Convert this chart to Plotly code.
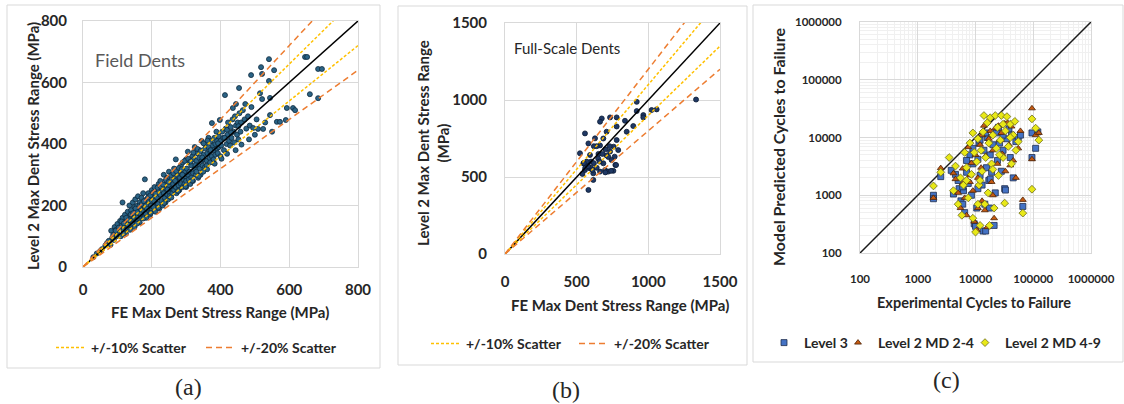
import plotly.graph_objects as go

# ---------------- Panel (a): Field Dents ----------------
a_fe = [30,40,50,55,65,70,75,80,82,85,88,90,92,95,98,100,100,
        105,108,110,112,115,115,118,120,122,125,125,128,130,130,132,135,135,138,140,140,142,145,145,148,150,150,150,
        152,155,155,158,160,160,162,165,165,168,170,170,172,175,175,178,178,180,180,182,185,185,188,190,190,192,195,195,198,200,200,200,
        203,205,208,210,210,212,215,218,220,220,222,225,225,228,230,230,232,235,235,238,240,240,242,245,245,248,250,250,250,
        252,255,258,260,260,262,265,265,268,270,270,272,275,275,278,280,280,282,285,285,288,290,290,292,295,295,298,300,300,300,
        302,305,305,308,310,310,312,315,315,318,320,320,322,325,325,328,330,330,332,335,335,338,340,340,342,345,345,348,350,350,
        352,355,355,358,360,360,362,365,365,368,370,370,372,375,375,378,380,380,382,385,385,388,390,390,392,395,395,398,400,400,
        402,405,408,410,413,415,418,419,420,422,425,428,430,432,435,436,438,440,442,445,445,448,450,452,454,455,458,460,
        465,470,472,475,480,485,489,490,495,500,505,509,515,518,521,521,524,530,541,541,544,544,550,556,
        564,573,590,593,611,617,646,652,660,684,695,684,
        95,104,112,119,126,133,139,146,153,158,164,171,177,183,189,196,204,211,217,226,233,241,249,256,263,271,279,287,296,
        306,313,321,333,342,351,362,118,137,157,176,197,219,236,257,277,298,318,337,361,383,403,419,444,461,483,
        131,167,186,207,246,268,289,327,347,371,393,412,431,452]
a_l2 = [32,44,52,58,70,78,85,72,118,95,105,88,130,120,100,140,115,
        125,150,100,135,160,210,120,145,170,108,135,155,180,125,145,165,200,130,150,185,170,140,210,160,195,130,175,
        220,150,185,200,165,230,175,145,210,190,160,225,200,180,240,165,210,195,285,175,220,160,205,185,240,215,170,230,200,250,185,215,
        230,195,260,210,180,240,225,205,270,245,190,235,280,215,250,260,200,240,300,225,270,210,255,290,235,220,265,310,245,
        230,280,255,300,240,270,250,320,285,260,350,240,300,275,265,310,250,290,330,270,300,260,340,285,310,270,295,350,280,260,
        320,300,375,285,340,310,270,330,290,360,305,280,350,320,390,300,345,310,370,330,290,355,320,380,300,345,410,330,365,310,
        350,385,325,400,345,330,370,390,420,355,375,340,410,468,360,395,380,350,420,400,365,440,385,410,370,425,390,478,410,360,
        395,440,420,380,559,450,400,446,430,470,410,395,455,420,480,517,440,405,490,460,530,430,470,415,582,500,440,470,
        510,480,530,450,490,460,624,520,452,430,480,449,565,650,628,546,449,470,676,605,550,494,440,640,
        472,472,478,517,517,510,683,683,562,644,644,549,
        118,128,148,142,160,152,171,175,190,178,198,205,214,200,226,233,242,238,258,262,268,283,276,298,305,312,322,318,345,
        352,343,372,384,377,402,411,108,121,141,158,176,193,208,226,247,262,281,296,318,336,352,368,380,398,415,
        137,172,190,214,252,280,300,331,356,380,402,420,437,458]

# ---------------- Panel (b): Full-Scale Dents ----------------
b_fe = [1333,919,1058,1023,965,965,919,895,849,837,779,733,675,663,779,779,790,758,765,770,709,686,663,652,640,
        558,582,628,523,593,547,570,558,593,616,582,616,663,698,721,756,709,733,721,744,686,775,540,560,600,620,650,
        700,730,680,600,570,610,640,660,700,740,620,580,550]
b_l2 = [1003,988,939,935,902,887,928,831,794,865,887,887,880,859,828,740,675,697,632,578,794,750,705,650,700,
        783,718,751,654,643,589,578,545,556,524,416,481,535,545,535,540,640,665,630,610,589,578,520,560,600,590,620,
        680,700,650,560,600,545,560,600,530,540,700,570,590]

# ---------------- Panel (c): cycles to failure ----------------
c_l3_exp = [1870,1870,2500,4150,3800,4500,5000,5200,5600,6000,6200,6500,7000,7500,8000,8500,9000,9500,10000,10500,
            11000,11500,12000,13000,13500,14000,14500,15000,15500,16000,17000,17500,18000,19000,20000,21000,22000,23000,
            24000,26000,28000,30000,32000,33000,35000,38000,40000,42000,45000,50000,55000,60000,66000,95000,95000,110000,
            120000,7000,9000,12000,15000,25000,30000,18000,11000,6000]
c_l3_mod = [1000,870,2100,1050,2700,2300,1800,1300,800,700,1200,500,2500,1600,5000,1000,3500,320,290,600,
            4200,8000,2200,1500,240,6000,700,240,3000,10000,1800,600,5000,2500,7500,300,1100,12000,
            4000,8000,2600,6000,1300,1230,9500,14000,4500,11000,2000,8500,10000,11000,640,12000,4500,6500,
            12500,4000,6500,9000,12000,15000,11000,1900,1300,1400]
c_m24_exp = [1870,2500,4150,4500,5000,5500,6000,6500,7000,7500,8000,8500,9000,9500,10000,10500,11000,12000,12500,13000,
             14000,14500,15000,16000,17000,18000,19000,20000,21000,22000,24000,25000,27000,29000,32000,33000,36000,38000,
             40000,42000,45000,50000,55000,60000,66000,95000,95000,110000,125000,8000,11000,6000,13000,20000,28000]
c_m24_mod = [900,2950,2400,1900,1100,600,2900,900,450,6800,1700,3600,1200,350,5000,250,2000,7500,3000,800,
             16000,550,4800,280,9500,13000,1700,6000,400,14500,3500,16000,9000,5200,17500,2600,18000,7500,
             3300,15500,4000,2000,6500,13000,830,32000,4200,11000,12000,2200,600,1600,11000,1000,12000]
c_m49_exp = [1870,2500,3500,4150,4500,5000,5500,5800,6200,6500,7000,7500,8000,8500,9000,9500,10000,10500,11000,11500,
             12000,12500,13000,13500,14000,14500,15000,16000,16500,17000,17500,18000,19000,20000,21000,22000,23000,24000,
             25000,27000,28000,30000,32000,33000,35000,37000,40000,42000,45000,48000,50000,55000,66000,95000,95000,110000,
             125000,7000,12000,9000,30000,40000,20000,11000,26000]
c_m49_mod = [1450,2500,4500,1200,3200,700,2000,450,1500,5500,3000,900,8000,2300,400,5500,230,3800,9500,1500,
             300,6000,2600,12500,24000,700,4500,18000,1100,8000,300,22000,3500,11000,600,24000,6500,15000,
             2200,9000,24000,4500,730,13000,23000,7000,17000,3500,11000,19000,6000,8500,490,21000,1270,14500,
             9000,1800,1800,12000,17000,10000,2800,700,5000]

# scatter band factors and axis maxima
band10 = [1.1, 0.9]
band20 = [1.2, 0.8]
a_max, b_max = 800, 1500
c_ticks = [100, 1000, 10000, 100000, 1000000]
c_ticktext = ["100", "1000", "10000", "100000", "1000000"]

W, H = 1124, 404
def PX(x): return x / W
def PY(y): return 1 - y / H

YEL = "#FFC000"
ORA = "#ED7D31"
TXT = "#262626"
GRID = "#d9d9d9"

fig = go.Figure()

def add_lines(xa, ya, vmax, leg10, leg20):
    fig.add_trace(go.Scatter(x=[0, vmax], y=[0, vmax], mode="lines", xaxis=xa, yaxis=ya,
                             line=dict(color="black", width=1.5), showlegend=False))
    for i, f in enumerate(band10):
        fig.add_trace(go.Scatter(x=[0, vmax], y=[0, vmax * f], mode="lines", xaxis=xa, yaxis=ya,
                                 line=dict(color=YEL, width=1.5, dash="3px,2px"),
                                 name="+/-10% Scatter", legend=leg10, showlegend=(i == 0)))
    for i, f in enumerate(band20):
        fig.add_trace(go.Scatter(x=[0, vmax], y=[0, vmax * f], mode="lines", xaxis=xa, yaxis=ya,
                                 line=dict(color=ORA, width=1.5, dash="6px,4px"),
                                 name="+/-20% Scatter", legend=leg20, showlegend=(i == 0)))

# Panel (a)
fig.add_trace(go.Scatter(x=a_fe, y=a_l2, mode="markers", xaxis="x", yaxis="y", showlegend=False,
                         marker=dict(size=5, color="#2b6385", line=dict(color="#0e2a3d", width=0.8))))
add_lines("x", "y", a_max, "legend", "legend2")

# Panel (b)
fig.add_trace(go.Scatter(x=b_fe, y=b_l2, mode="markers", xaxis="x2", yaxis="y2", showlegend=False,
                         marker=dict(size=5, color="#1f3864", line=dict(color="#0b1a33", width=0.8))))
add_lines("x2", "y2", b_max, "legend3", "legend4")

# Panel (c)
fig.add_trace(go.Scatter(x=[c_ticks[0], c_ticks[-1]], y=[c_ticks[0], c_ticks[-1]], mode="lines",
                         xaxis="x3", yaxis="y3", line=dict(color="#1a1a1a", width=1.5), showlegend=False))
fig.add_trace(go.Scatter(x=c_l3_exp, y=c_l3_mod, mode="markers", xaxis="x3", yaxis="y3", name="Level 3",
                         legend="legend5",
                         marker=dict(symbol="square", size=6, color="#4472C4", line=dict(color="#1f2d4d", width=0.8))))
fig.add_trace(go.Scatter(x=c_m24_exp, y=c_m24_mod, mode="markers", xaxis="x3", yaxis="y3", name="Level 2 MD 2-4",
                         legend="legend6",
                         marker=dict(symbol="triangle-up", size=6, color="#C55A11", line=dict(color="#4d2205", width=0.8))))
fig.add_trace(go.Scatter(x=c_m49_exp, y=c_m49_mod, mode="markers", xaxis="x3", yaxis="y3", name="Level 2 MD 4-9",
                         legend="legend7",
                         marker=dict(symbol="diamond", size=6, color="#E8E817", line=dict(color="#6b6b1a", width=0.8))))

tickfont = dict(family="Lato", size=15, color=TXT, weight="bold")
tickfont_c = dict(family="Lato", size=11.5, color=TXT, weight="bold")
common = dict(showline=True, linecolor=GRID, linewidth=1, mirror=True, showgrid=True, gridcolor=GRID,
              gridwidth=1, zeroline=False, ticks="outside", tickcolor="rgba(0,0,0,0)", automargin=False)

def legend_at(x, y, size=14):
    return dict(x=PX(x), y=PY(y), xanchor="left", yanchor="middle", orientation="h",
                font=dict(family="Lato", size=size, color=TXT, weight="bold"),
                bgcolor="rgba(0,0,0,0)", itemwidth=30)

fig.update_layout(
    width=W, height=H, margin=dict(l=0, r=0, t=0, b=0, autoexpand=False),
    paper_bgcolor="white", plot_bgcolor="white",
    xaxis=dict(domain=[PX(83), PX(358)], range=[0, a_max], dtick=200, anchor="y", ticklen=9,
               tickfont=tickfont, **common),
    yaxis=dict(domain=[PY(267), PY(21)], range=[0, a_max], dtick=200, anchor="x", ticklen=12,
               tickfont=tickfont, **common),
    xaxis2=dict(domain=[PX(505), PX(720)], range=[0, b_max], dtick=500, anchor="y2", ticklen=14,
                tickfont=tickfont, **common),
    yaxis2=dict(domain=[PY(254), PY(23)], range=[0, b_max], dtick=500, anchor="x2", ticklen=14,
                tickfont=tickfont, **common),
    xaxis3=dict(domain=[PX(860), PX(1091)], type="log", range=[2, 6], anchor="y3",
                tickvals=c_ticks, ticktext=c_ticktext, ticklen=15, tickfont=tickfont_c,
                minor=dict(showgrid=True, dtick="D1", gridcolor="#f0f0f0", ticks=""), **common),
    yaxis3=dict(domain=[PY(253), PY(22)], type="log", range=[2, 6], anchor="x3",
                tickvals=c_ticks, ticktext=c_ticktext, ticklen=15, tickfont=tickfont_c,
                minor=dict(showgrid=True, dtick="D1", gridcolor="#f0f0f0", ticks=""), **common),
    legend=legend_at(51, 348),
    legend2=legend_at(201, 348),
    legend3=legend_at(426, 344),
    legend4=legend_at(574, 344),
    legend5=legend_at(764, 343),
    legend6=legend_at(838, 343),
    legend7=legend_at(965, 343),
)

# panel frames
for (x0, y0, x1, y1) in [(7, 5, 380, 368), (398, 6, 747, 365), (753, 5, 1123, 362)]:
    fig.add_shape(type="rect", xref="paper", yref="paper", x0=PX(x0), x1=PX(x1), y0=PY(y0), y1=PY(y1),
                  line=dict(color="#d9d9d9", width=1), fillcolor="rgba(0,0,0,0)", layer="below")

bold = dict(family="Lato", color=TXT, weight="bold")
ann = [
    dict(x=PX(220), y=PY(312), text="FE Max Dent Stress Range (MPa)", font=dict(size=15, **bold)),
    dict(x=PX(33), y=PY(146), text="Level 2 Max Dent Stress Range (MPa)", textangle=-90, font=dict(size=15, **bold)),
    dict(x=PX(620), y=PY(305), text="FE Max Dent Stress Range (MPa)", font=dict(size=15, **bold)),
    dict(x=PX(433), y=PY(143), text="Level 2 Max Dent Stress Range<br>(MPa)", textangle=-90, font=dict(size=15, **bold)),
    dict(x=PX(974), y=PY(302), text="Experimental Cycles to Failure", font=dict(size=14.5, **bold)),
    dict(x=PX(778), y=PY(147), text="Model Predicted Cycles to Failure", textangle=-90, font=dict(size=16, **bold)),
    dict(x=PX(93), y=PY(60), text="Field Dents", xanchor="left", font=dict(family="Lato", size=18, color="#595959")),
    dict(x=PX(512), y=PY(48), text="Full-Scale Dents", xanchor="left", font=dict(family="Lato", size=15, color=TXT)),
    dict(x=PX(188), y=PY(387), text="(a)", font=dict(family="Liberation Serif", size=24, color=TXT)),
    dict(x=PX(566), y=PY(390), text="(b)", font=dict(family="Liberation Serif", size=24, color=TXT)),
    dict(x=PX(946), y=PY(380), text="(c)", font=dict(family="Liberation Serif", size=24, color=TXT)),
]
for a in ann:
    a.setdefault("xanchor", "center")
    fig.add_annotation(xref="paper", yref="paper", showarrow=False, yanchor="middle", **a)

fig.write_html("out.html")
